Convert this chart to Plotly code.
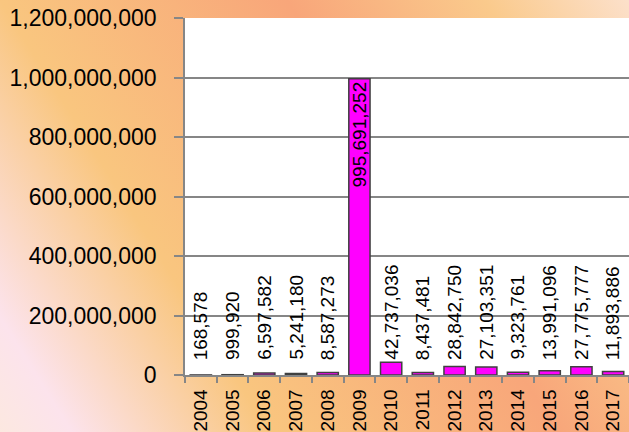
import base64

import plotly.graph_objects as go

# Datos por anio
ANIOS = ["2004", "2005", "2006", "2007", "2008", "2009", "2010",
         "2011", "2012", "2013", "2014", "2015", "2016", "2017"]
MONTOS = [168578, 999920, 6597582, 5241180, 8587273, 995691252, 42737036,
          8437481, 28842750, 27103351, 9323761, 13991096, 27775777, 11893886]

Y_TICKS = [0, 200000000, 400000000, 600000000, 800000000, 1000000000, 1200000000]
Y_MAX = Y_TICKS[-1]

FUENTE = "Liberation Sans"
GRIS = "#868686"

# fondo degradado (svg embebido)
SVG_FONDO = """<svg xmlns='http://www.w3.org/2000/svg' width='629' height='432'>
<defs><linearGradient id='g' gradientUnits='userSpaceOnUse' x1='0' y1='432' x2='646' y2='28'>
<stop offset='0' stop-color='#FCE8E0'/>
<stop offset='0.08' stop-color='#FCE3EC'/>
<stop offset='0.30' stop-color='#F9C67F'/>
<stop offset='0.62' stop-color='#F8A67A'/>
<stop offset='0.84' stop-color='#FACA8C'/>
<stop offset='1' stop-color='#FCE0CA'/>
</linearGradient></defs>
<rect width='629' height='432' fill='url(#g)'/></svg>"""
fondo_src = "data:image/svg+xml;base64," + base64.b64encode(SVG_FONDO.encode()).decode()

W, H = 629, 432
M_L, M_R, M_T, M_B = 185, 0, 18, 57
PW, PH = W - M_L - M_R, H - M_T - M_B

max_monto = max(MONTOS)

fig = go.Figure()
fig.add_trace(go.Bar(
    x=ANIOS,
    y=MONTOS,
    marker=dict(color="#FF00FF", line=dict(color="#404040", width=1.5)),
    # solo el pico lleva etiqueta dentro de la barra
    text=[f"{m:,}" if m == max_monto else "" for m in MONTOS],
    textposition="inside",
    insidetextanchor="end",
    textangle=-90,
    textfont=dict(family=FUENTE, size=19, color="black"),
    constraintext="none",
    cliponaxis=False,
))

# etiquetas de las demas barras: arriba de la barra, nunca mas abajo de ~15px del eje
# (x como indice de categoria, "2004" se tomaria como posicion numerica)
for i, m in enumerate(MONTOS):
    if m == max_monto:
        continue
    alto_px = m / Y_MAX * PH
    fig.add_annotation(
        x=i, y=m, xref="x", yref="y",
        text=f"{m:,}",
        textangle=-90,
        showarrow=False,
        xanchor="center", yanchor="bottom",
        yshift=max(1, 14 - alto_px),
        font=dict(family=FUENTE, size=19, color="black"),
        borderpad=0,
    )

fig.update_layout(
    width=W,
    height=H,
    margin=dict(l=M_L, r=M_R, t=M_T, b=M_B, autoexpand=False),
    paper_bgcolor="#F9C67F",
    plot_bgcolor="white",
    bargap=0.33,
    showlegend=False,
    images=[dict(
        source=fondo_src,
        xref="paper", yref="paper",
        x=-M_L / PW, y=1 + M_T / PH,
        sizex=W / PW, sizey=H / PH,
        xanchor="left", yanchor="top",
        sizing="stretch",
        layer="below",
    )],
    shapes=[dict(
        type="rect", xref="paper", yref="paper",
        x0=0, x1=1, y0=0, y1=1,
        fillcolor="white", line=dict(width=0), layer="below",
    )],
)

fig.update_xaxes(
    type="category",
    range=[-0.5, len(ANIOS) - 0.5],
    automargin=False,
    tickangle=-90,
    tickfont=dict(family=FUENTE, size=19, color="black"),
    ticks="outside",
    tickson="boundaries",
    ticklen=6,
    tickcolor=GRIS,
    tickwidth=1.5,
    showline=True,
    linecolor=GRIS,
    linewidth=1.5,
    showgrid=False,
    ticklabelstandoff=5,
)

fig.update_yaxes(
    automargin=False,
    range=[0, Y_MAX],
    tickvals=Y_TICKS,
    tickformat=",d",
    tickfont=dict(family=FUENTE, size=23, color="black"),
    ticks="outside",
    ticklen=9,
    tickcolor=GRIS,
    tickwidth=1.5,
    showline=True,
    linecolor=GRIS,
    linewidth=1.5,
    showgrid=True,
    gridcolor=GRIS,
    gridwidth=1.5,
    zeroline=False,
    ticklabelstandoff=13,
)

# sin margen del body para que la figura llene la ventana
fig.write_html(
    "out.html",
    config={"displayModeBar": False},
    post_script="document.body.style.margin='0';document.body.style.overflow='hidden';",
)
